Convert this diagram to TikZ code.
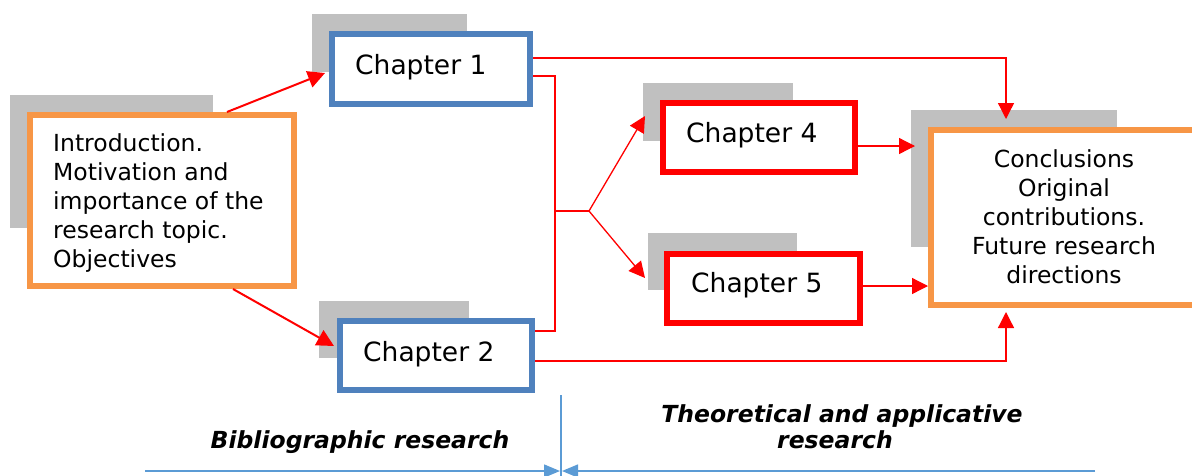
\documentclass[tikz,border=0pt]{standalone}
\usepackage{fontspec}
\setmainfont{DejaVu Sans}
\usetikzlibrary{arrows.meta,calc}
\definecolor{boxblue}{HTML}{4F81BD}
\definecolor{boxorange}{HTML}{F79646}
\definecolor{shadowgray}{HTML}{C0C0C0}
\definecolor{axisblue}{HTML}{5B9BD5}
\definecolor{linkred}{HTML}{FF0000}
\begin{document}
\begin{tikzpicture}[x=1pt,y=-1pt,
  shadowbox/.style={fill=shadowgray,draw=none},
  boxnode/.style={rectangle,draw,fill=white,inner sep=0pt,line width=6pt},
  bluebox/.style={boxnode,draw=boxblue},
  redbox/.style={boxnode,draw=linkred,line width=6.5pt},
  orangebox/.style={boxnode,draw=boxorange},
  chtext/.style={inner sep=0pt,anchor=base west,font=\fontsize{26.5}{31}\selectfont},
  bodytext/.style={inner sep=0pt,font=\fontsize{23.5}{28.8}\selectfont},
  labtext/.style={inner sep=0pt,anchor=base,font=\fontsize{23.5}{26}\selectfont\bfseries\itshape},
  conn/.style={draw=linkred,line width=1.3pt},
  connarrow/.style={conn,-{Triangle[length=16pt,width=16pt]}},
  thickarrow/.style={draw=linkred,line width=2pt,-{Triangle[length=17pt,width=17pt]}},
  axisline/.style={draw=axisblue,line width=1.5pt},
  axisarrow/.style={axisline,-{Triangle[length=16pt,width=13pt]}}
]
\useasboundingbox (0,0) rectangle (1192,475);

% shadows
\fill[shadowbox] (10,95) rectangle (213,228);
\fill[shadowbox] (312,14) rectangle (467,72);
\fill[shadowbox] (319,301) rectangle (469,358);
\fill[shadowbox] (643,83) rectangle (793,141);
\fill[shadowbox] (648,233) rectangle (797,290);
\fill[shadowbox] (911,110) rectangle (1117,247);

% boxes
\node[orangebox,minimum width=264pt,minimum height=171pt] (intro) at (162,200.5) {};
\node[bluebox,minimum width=198pt,minimum height=70pt] (ch1) at (431,69) {};
\node[bluebox,minimum width=192pt,minimum height=69pt] (ch2) at (436,355.5) {};
\node[redbox,minimum width=192pt,minimum height=69pt] (ch4) at (759,137.5) {};
\node[redbox,minimum width=193pt,minimum height=69pt] (ch5) at (763.5,288.5) {};
\node[orangebox,minimum width=267pt,minimum height=175pt] (conc) at (1064.5,217.5) {};

% texts (multi-line nodes: base = baseline of last line)
\node[chtext] (ch1t) at (355,74) {Chapter 1};
\node[chtext] (ch2t) at (363,361) {Chapter 2};
\node[chtext] (ch4t) at (686,142) {Chapter 4};
\node[chtext] (ch5t) at (691,292) {Chapter 5};
\node[bodytext,anchor=base west,align=left] (introt) at (53,267)
  {Introduction.\\Motivation and\\importance of the\\research topic.\\Objectives};
\node[bodytext,anchor=base,align=center] (conct) at (1064,283)
  {Conclusions\\Original\\contributions.\\Future research\\directions};
\node[labtext] (bib) at (360,448) {Bibliographic research};
\node[labtext,align=center] (theo) at (842,448) {Theoretical and applicative\\research\hspace*{14pt}};

% connector points
\coordinate (c1in) at (325,73);
\coordinate (c2in) at (334,346);
\coordinate (jtop) at (555,76);
\coordinate (jmid) at (555,211);
\coordinate (jbot) at (555,331);
\coordinate (br) at (589,211);
\coordinate (c4in) at (645,116);
\coordinate (c5in) at (645,278);
\coordinate (ctop) at (1006,119);
\coordinate (cbot) at (1006,312);
\coordinate (c4out) at (915,146);

% connectors
\draw[thickarrow] (227,0 |- intro.north) -- (c1in);
\draw[thickarrow] (233,0 |- intro.south) -- (c2in);
\draw[connarrow] (ch1.east |- 0,58) -| (ctop);
\draw[conn] (ch1.east |- jtop) -- (jtop) -- (jbot) -- (ch2.east |- jbot);
\draw[conn] (jmid) -- (br);
\draw[connarrow] (br) -- (c4in);
\draw[connarrow] (br) -- (c5in);
\draw[connarrow] (ch4.east |- c4out) -- (c4out);
\draw[connarrow] (ch5.east |- 0,286) -- (conc.west |- 0,286);
\draw[connarrow] (ch2.east |- 0,361) -| (cbot);

% axis
\coordinate (axtop) at (561,395);
\coordinate (axbot) at (561,476);
\coordinate (axl) at (145,471);
\coordinate (axr) at (1095,471);
\coordinate (axml) at (560,471);
\coordinate (axmr) at (562,471);
\draw[axisline] (axtop) -- (axbot);
\draw[axisarrow] (axl) -- (axml);
\draw[axisarrow] (axr) -- (axmr);
\end{tikzpicture}
\end{document}
